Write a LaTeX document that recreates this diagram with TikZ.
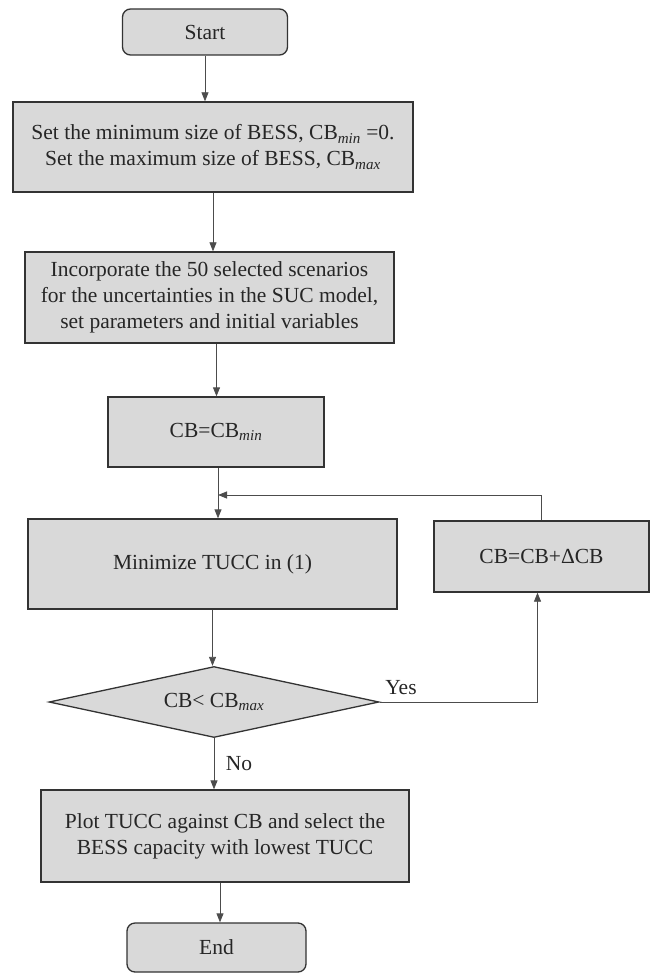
\documentclass[tikz,border=0pt]{standalone}
\usepackage{fontspec}
\setmainfont{Liberation Serif}
\usetikzlibrary{shapes.geometric,arrows.meta}

\newcommand{\lowi}[1]{\textsubscript{\textit{#1}}}

\tikzset{
  flow/.style={draw=black!80, line width=1.3pt, fill=black!15, text=black!85,
    inner sep=0pt, align=center, font=\fontsize{21.5}{26}\selectfont},
  procbox/.style={flow, rectangle},
  termbox/.style={flow, rectangle, rounded corners=8pt},
  testbox/.style={flow, diamond, aspect=4.6},
  link/.style={draw=black!70, line width=0.8pt, -{Triangle[length=9pt,width=7pt]}},
  tag/.style={text=black!85, font=\fontsize{21.5}{26}\selectfont, inner sep=0pt}
}

\begin{document}
\begin{tikzpicture}[x=1pt, y=-1pt]
  \useasboundingbox (0,0) rectangle (652,973);

  \node[termbox, minimum width=165, minimum height=46] (start) at (205,32) {Start};
  \node[procbox, minimum width=400, minimum height=90] (setsize) at (213,147)
    {Set the minimum size of BESS, CB\lowi{min} =0.\\ Set the maximum size of BESS, CB\lowi{max}};
  \node[procbox, minimum width=369, minimum height=91] (scen) at (209.5,297.5)
    {Incorporate the 50 selected scenarios\\for the uncertainties in the SUC model,\\set parameters and initial variables};
  \node[procbox, minimum width=216, minimum height=70] (cbmin) at (216,432) {CB=CB\lowi{min}};
  \node[procbox, minimum width=369, minimum height=90] (mintucc) at (212.5,564) {Minimize TUCC in (1)};
  \node[procbox, minimum width=215, minimum height=71] (cbinc) at (541.5,556.5) {CB=CB+ΔCB};
  \node[testbox, minimum width=330, minimum height=71] (check) at (214,702) {CB< CB\lowi{max}};
  \node[procbox, minimum width=368, minimum height=92] (plot) at (225,836)
    {Plot TUCC against CB and select the\\BESS capacity with lowest TUCC};
  \node[termbox, minimum width=179, minimum height=49] (stop) at (216.5,947.5) {End};

  \coordinate (join) at (218,495);

  \draw[link] (start.south) -- (start.south |- setsize.north);
  \draw[link] (setsize.south) -- (setsize.south |- scen.north);
  \draw[link] ([xshift=7pt]scen.south) -- ([xshift=7pt]scen.south |- cbmin.north);
  \draw[link] ([xshift=2pt]cbmin.south) -- ([xshift=2pt]cbmin.south |- mintucc.north);
  \draw[link] (cbinc.north) |- (join);
  \draw[link] (mintucc.south) -- (mintucc.south |- check.north);
  \draw[link] (check.east) -| ([xshift=-4pt]cbinc.south);
  \draw[link] (check.south) -- (check.south |- plot.north);
  \draw[link] ([xshift=-5pt]plot.south) -- ([xshift=-5pt]plot.south |- stop.north);

  \node[tag] (yes) at (401,688) {Yes};
  \node[tag] (no) at (239,764) {No};
\end{tikzpicture}
\end{document}
